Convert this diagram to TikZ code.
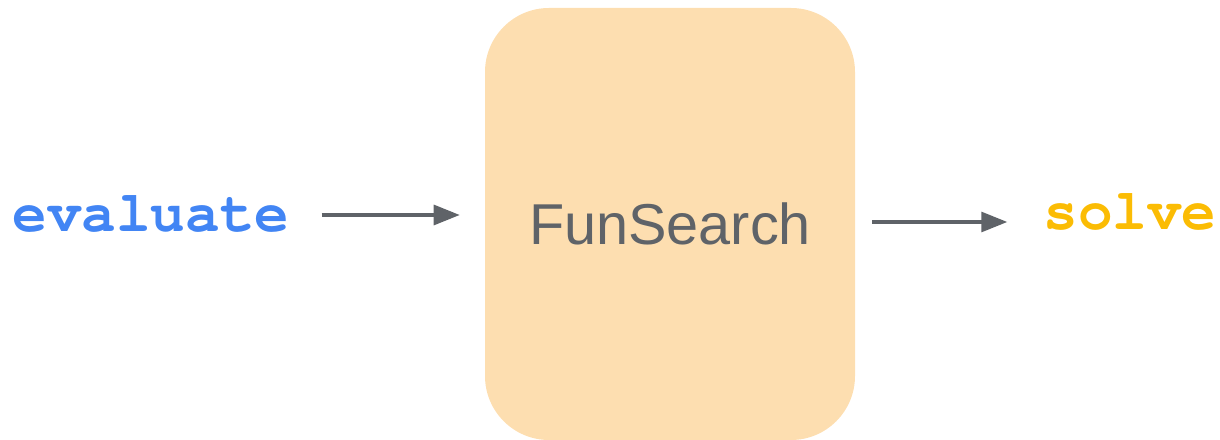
\documentclass[tikz,border=0pt]{standalone}
\usepackage{fontspec}
\setmainfont{Liberation Sans}
\newfontfamily\codefont{TeX Gyre Cursor}
\usepackage{tikz}
\usetikzlibrary{arrows.meta}

\definecolor{gblue}{HTML}{4285F4}
\definecolor{gyellow}{HTML}{FBBC04}
\definecolor{ggrey}{HTML}{5F6368}
\definecolor{gpeach}{HTML}{FDDEB0}

\begin{document}
\begin{tikzpicture}[>={Triangle[length=0.65cm,width=0.5cm]},
  flow/.style={->,draw=ggrey,line width=2.2pt},
  code/.style={inner sep=0pt,anchor=base,font=\codefont\bfseries\fontsize{41}{48}\selectfont},
  funbox/.style={fill=gpeach,rounded corners=1.6cm,minimum width=9.25cm,minimum height=10.8cm,
    text=ggrey,font=\fontsize{41}{48}\selectfont}]
\useasboundingbox (0,0) rectangle (30.5,11);
\node[funbox] (fun) at (16.75,5.4) {FunSearch};
\node[code,text=gblue] (eval) at (3.775,5.2) {evaluate};
\node[code,text=gyellow] (solve) at (28.25,5.25) {solve};
\coordinate (in) at ([yshift=0.425cm]eval.base east);
\coordinate (out) at ([yshift=0.05cm]fun.east);
\draw[flow,shorten <=0.8cm,shorten >=0.625cm] (in) -- (in -| fun.west);
\draw[flow,shorten <=0.425cm,shorten >=0.9cm] (out) -- (out -| solve.west);
\end{tikzpicture}
\end{document}
